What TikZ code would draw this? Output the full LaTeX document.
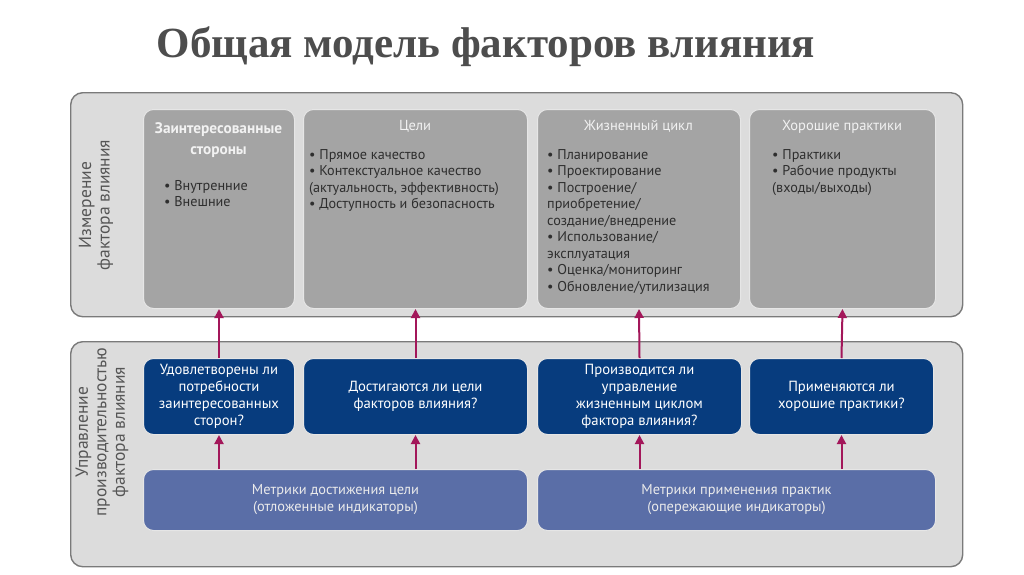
\documentclass[tikz,border=0pt]{standalone}
\usepackage{fontspec}
\setmainfont{PT Sans}
\newfontfamily\titlefont{Liberation Serif}
\usetikzlibrary{arrows.meta}
\definecolor{panelfill}{HTML}{DCDCDC}
\definecolor{panelline}{HTML}{7A7A7A}
\definecolor{boxgray}{HTML}{A4A4A4}
\definecolor{boxline}{HTML}{E6E6E6}
\definecolor{darkblue}{HTML}{073C7E}
\definecolor{midblue}{HTML}{5A6EA7}
\definecolor{arrowred}{HTML}{A3175A}
\definecolor{txtgray}{HTML}{2E2E2E}
\definecolor{lblgray}{HTML}{555555}
\definecolor{titlegray}{HTML}{4D4D4D}
\tikzset{
  panel/.style={draw=panelline, line width=1.4pt, fill=panelfill, rounded corners=12pt},
  graybox/.style={draw=boxline, line width=1pt, fill=boxgray, rounded corners=10pt},
  qbox/.style={draw=boxline, line width=1pt, fill=darkblue, rounded corners=10pt, text=white, align=center, font=\fontsize{14.7}{17}\selectfont},
  mbox/.style={draw=boxline, line width=1pt, fill=midblue, rounded corners=10pt, text=white!92!black, align=center, font=\fontsize{14.4}{17}\selectfont},
  btitle/.style={text=white!95!black, align=center, font=\fontsize{14.5}{21}\selectfont, anchor=north, inner sep=0pt},
  bullets/.style={text=txtgray, align=left, font=\fontsize{14.2}{16.5}\selectfont, anchor=north west, inner sep=0pt},
  vlabel/.style={text=lblgray, align=center, rotate=90, font=\fontsize{17.5}{18.5}\selectfont},
  arr/.style={draw=arrowred, line width=2pt, -{Triangle[width=9pt,length=9pt]}}
}
\begin{document}
\begin{tikzpicture}[x=1pt,y=-1pt]
\useasboundingbox[fill=white] (0,0) rectangle (1024,574);
% title
\node[text=titlegray, font=\titlefont\bfseries\fontsize{43}{46}\selectfont] (title) at (486,47) {Общая модель факторов влияния};
% panels
\node[panel, minimum width=892pt, minimum height=224pt, anchor=north west] (top) at (70,92) {};
\node[panel, minimum width=892pt, minimum height=225pt, anchor=north west] (bottom) at (70,341) {};
\node[vlabel] (ltop) at (96,205) {Измерение\\фактора влияния};
\node[vlabel] (lbot) at (102,432) {Управление\\производительностью\\фактора влияния};
% gray boxes
\node[graybox, minimum width=151pt, minimum height=199pt, anchor=north west] (s1) at (143,109) {};
\node[graybox, minimum width=224pt, minimum height=199pt, anchor=north west] (s2) at (303,109) {};
\node[graybox, minimum width=203pt, minimum height=199pt, anchor=north west] (s3) at (537,109) {};
\node[graybox, minimum width=186pt, minimum height=199pt, anchor=north west] (s4) at (749,109) {};
\node[btitle, font=\bfseries\fontsize{15.3}{21.5}\selectfont] (t1) at (218.5,122) {Заинтересованные\\стороны};
\node[btitle] (t2) at (415,120) {Цели};
\node[btitle] (t3) at (638.5,120) {Жизненный цикл};
\node[btitle] (t4) at (842,120) {Хорошие практики};
\node[bullets] (b1) at (164,180) {• Внутренние\\• Внешние};
\node[bullets] (b2) at (309,149) {• Прямое качество\\• Контекстуальное качество\\(актуальность, эффективность)\\• Доступность и безопасность};
\node[bullets] (b3) at (547,149) {• Планирование\\• Проектирование\\• Построение/\\приобретение/\\создание/внедрение\\• Использование/\\эксплуатация\\• Оценка/мониторинг\\• Обновление/утилизация};
\node[bullets] (b4) at (772,149) {• Практики\\• Рабочие продукты\\(входы/выходы)};
% question boxes
\node[qbox, minimum width=151pt, minimum height=76pt, anchor=north west] (q1) at (143,358) {};
\node[qbox, minimum width=224pt, minimum height=76pt, anchor=north west] (q2) at (303,358) {};
\node[qbox, minimum width=204pt, minimum height=76pt, anchor=north west] (q3) at (537,358) {};
\node[qbox, minimum width=184pt, minimum height=76pt, anchor=north west] (q4) at (749,358) {};
\node[qbox, draw=none, fill=none] (q1t) at (q1.center) {Удовлетворены ли\\потребности\\заинтересованных\\сторон?};
\node[qbox, draw=none, fill=none] (q2t) at (q2.center) {Достигаются ли цели\\факторов влияния?};
\node[qbox, draw=none, fill=none] (q3t) at (q3.center) {Производится ли\\управление\\жизненным циклом\\фактора влияния?};
\node[qbox, draw=none, fill=none] (q4t) at (q4.center) {Применяются ли\\хорошие практики?};
% metric boxes
\node[mbox, minimum width=384pt, minimum height=61pt, anchor=north west] (m1) at (143,469) {Метрики достижения цели\\(отложенные индикаторы)};
\node[mbox, minimum width=398pt, minimum height=61pt, anchor=north west] (m2) at (537,469) {Метрики применения практик\\(опережающие индикаторы)};
% arrows
\draw[arr] (q1.north) -- (s1.south);
\draw[arr] (q2.north) -- (s2.south);
\draw[arr] (q3.north) -- (s3.south);
\draw[arr] (q4.north) -- (s4.south);
\draw[arr] (q1.south |- m1.north) -- (q1.south);
\draw[arr] (q2.south |- m1.north) -- (q2.south);
\draw[arr] (q3.south |- m2.north) -- (q3.south);
\draw[arr] (q4.south |- m2.north) -- (q4.south);
\end{tikzpicture}
\end{document}
